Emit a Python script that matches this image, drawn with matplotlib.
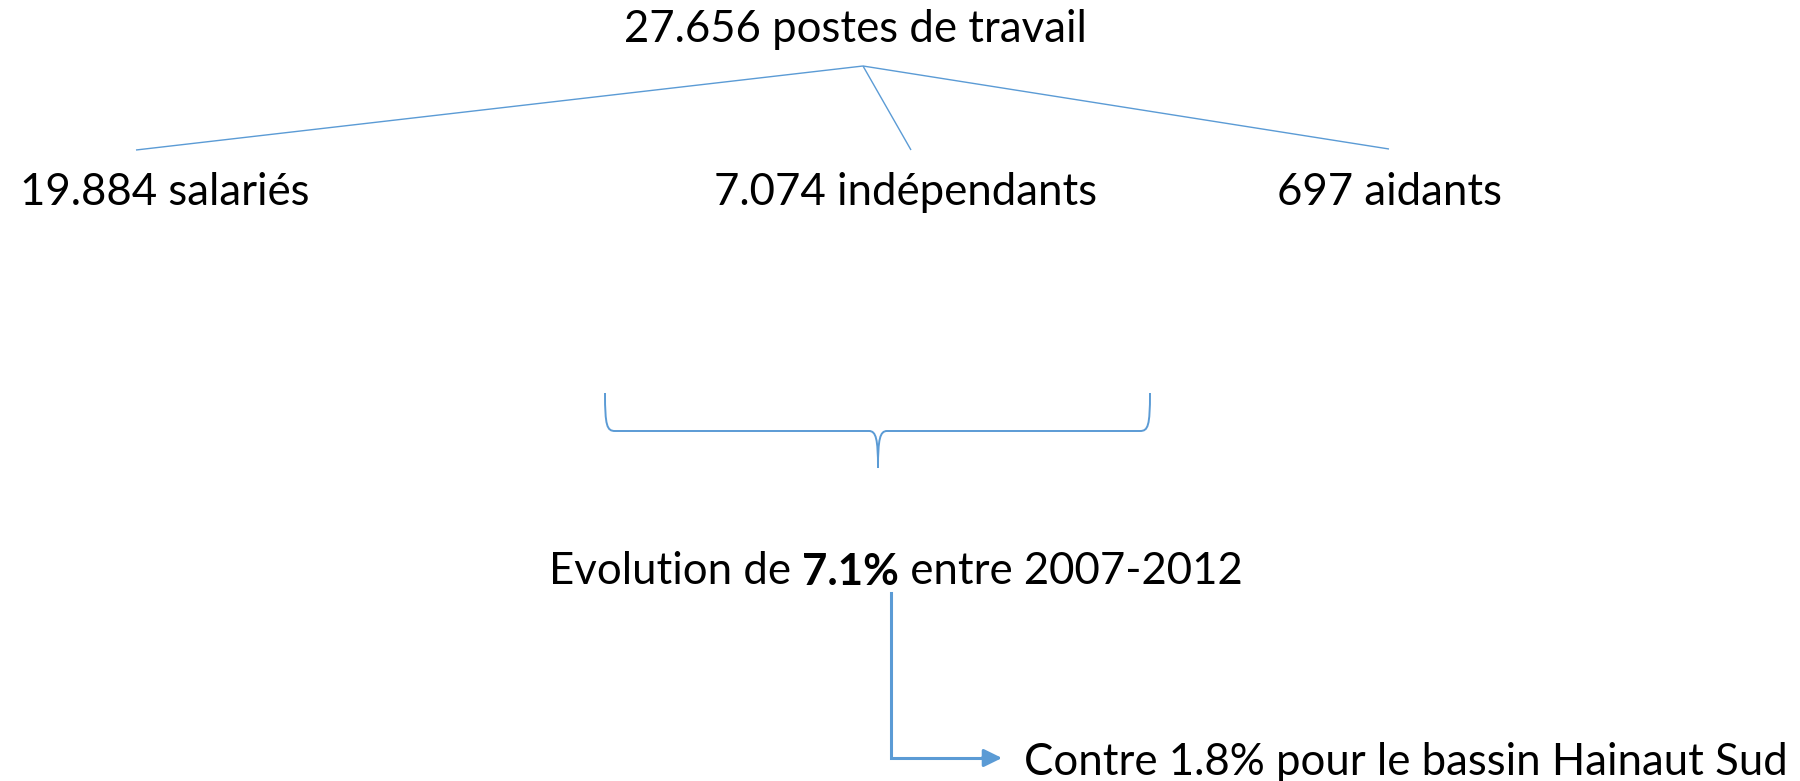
import matplotlib.pyplot as plt
from matplotlib.path import Path
from matplotlib.patches import PathPatch

plt.rcParams['font.family'] = ['Lato', 'DejaVu Sans']

# texts and their positions (pixel coords, y downwards)
title = "27.656 postes de travail"
title_xy = (855, 42)

labels = ["19.884 salariés", "7.074 indépendants", "697 aidants"]
label_x = [20, 714, 1277]
label_y = 205

apex = (863, 66)
branch_ends_x = [136, 911, 1389]
branch_ends_y = [150, 150, 149]

evol_parts = ["Evolution de ", "7.1%", " entre 2007-2012"]
evol_weights = ["normal", "bold", "normal"]
evol_xy = (549, 584)

compare = "Contre 1.8% pour le bassin Hainaut Sud"
compare_xy = (1024, 775)

brace_x = [605, 878, 1150]
brace_y = [393, 431, 468]

arrow_x = [891, 1002]
arrow_y = [593, 758]

blue = "#5B9BD5"
fs = 31.5

fig = plt.figure(figsize=(18, 7.81), dpi=100)
ax = fig.add_axes([0, 0, 1, 1])
ax.set_xlim(0, 1800)
ax.set_ylim(781, 0)
ax.axis("off")

# tree
ax.text(*title_xy, title, ha="center", va="baseline", fontsize=fs)
for x, y in zip(branch_ends_x, branch_ends_y):
    ax.plot([apex[0], x], [apex[1], y], color=blue, lw=1.0, solid_capstyle="butt")
for lab, x in zip(labels, label_x):
    ax.text(x, label_y, lab, ha="left", va="baseline", fontsize=fs)

# curly brace
l, m, r = brace_x
t, h, tip = brace_y
verts = [(l, t), (l, h - 5), (l + 2, h), (l + 10, h), (m - 9, h),
         (m - 2, h), (m, h + 8), (m, tip),
         (r, t), (r, h - 5), (r - 2, h), (r - 10, h), (m + 9, h),
         (m + 2, h), (m, h + 8), (m, tip)]
codes = [Path.MOVETO, Path.CURVE4, Path.CURVE4, Path.CURVE4, Path.LINETO,
         Path.CURVE4, Path.CURVE4, Path.CURVE4] * 2
ax.add_patch(PathPatch(Path(verts, codes), fill=False, edgecolor=blue, lw=1.4))

# evolution line with bold part
prev = ax.text(*evol_xy, evol_parts[0], ha="left", va="baseline",
               fontsize=fs, fontweight=evol_weights[0])
for part, w in zip(evol_parts[1:], evol_weights[1:]):
    prev = ax.annotate(part, xy=(1, 0), xycoords=prev, ha="left", va="bottom",
                       fontsize=fs, fontweight=w)

# elbow arrow
ax.plot([arrow_x[0], arrow_x[0], arrow_x[1] - 12], [arrow_y[0], arrow_y[1], arrow_y[1]],
        color=blue, lw=2.2, solid_joinstyle="miter")
ax.annotate("", xy=(arrow_x[1], arrow_y[1]), xytext=(arrow_x[1] - 20, arrow_y[1]),
            arrowprops=dict(arrowstyle="-|>,head_length=0.55,head_width=0.27",
                            color=blue, lw=2.2, mutation_scale=20, shrinkA=0, shrinkB=0))
ax.text(*compare_xy, compare, ha="left", va="baseline", fontsize=fs)

fig.savefig("out.png", dpi=100)
